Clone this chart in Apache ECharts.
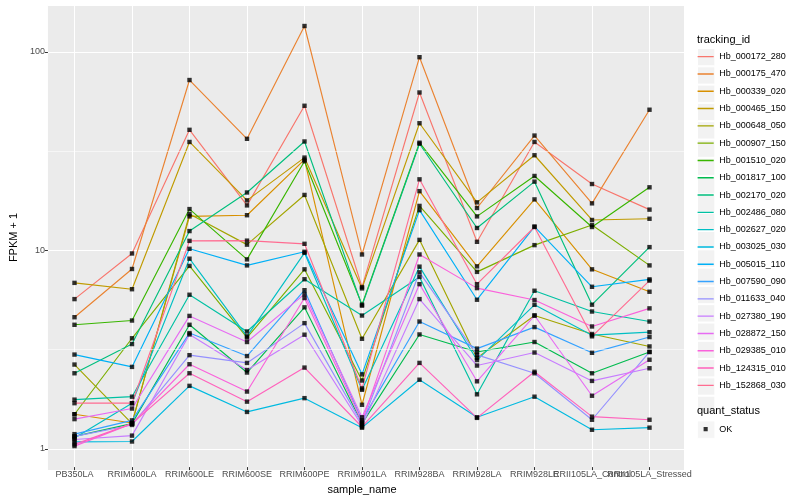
<!DOCTYPE html>
<html><head><meta charset="utf-8">
<script src="https://cdn.jsdelivr.net/npm/echarts@6.0.0/dist/echarts.min.js"></script>
<style>html,body{margin:0;padding:0;background:#fff}#c{width:800px;height:500px}</style>
</head><body><div id="c"></div>
<script>
const categories = ['PB350LA','RRIM600LA','RRIM600LE','RRIM600SE','RRIM600PE','RRIM901LA','RRIM928BA','RRIM928LA','RRIM928LE','RRII105LA_Control','RRII105LA_Stressed'];
const trackingIds = ['Hb_000172_280','Hb_000175_470','Hb_000339_020','Hb_000465_150','Hb_000648_050','Hb_000907_150','Hb_001510_020','Hb_001817_100','Hb_002170_020','Hb_002486_080','Hb_002627_020','Hb_003025_030','Hb_005015_110','Hb_007590_090','Hb_011633_040','Hb_027380_190','Hb_028872_150','Hb_029385_010','Hb_124315_010','Hb_152868_030'];
const colors = ['#F8766D','#EA8331','#D89000','#C09B00','#A3A500','#7CAE00','#39B600','#00BB4E','#00BF7D','#00C1A3','#00BFC4','#00BAE0','#00B0F6','#35A2FF','#9590FF','#C77CFF','#E76BF3','#FA62DB','#FF62BC','#FF6C91'];

// FPKM + 1 per sample, in category order
const hb000172_280 = [5.56, 9.47, 40.1, 16.6, 53.1, 6.4, 62.0, 10.85, 34.8, 21.3, 15.8];
const hb000175_470 = [4.5, 7.9, 71.7, 36.1, 134.7, 9.36, 93.6, 16.1, 37.5, 17.0, 50.7];
const hb000339_020 = [1.45, 1.31, 14.6, 14.8, 28.3, 1.62, 19.6, 8.15, 17.8, 7.87, 6.06];
const hb000465_150 = [6.72, 6.24, 34.8, 17.6, 29.0, 6.3, 43.3, 17.2, 29.8, 14.0, 14.2];
const hb000648_050 = [2.59, 1.30, 15.0, 10.5, 18.75, 3.5, 11.1, 2.8, 4.59, 3.7, 3.2];
const hb000907_150 = [1.45, 3.52, 8.19, 3.55, 7.87, 2.15, 16.5, 7.64, 10.44, 13.2, 8.24];
const hb001510_020 = [4.12, 4.33, 15.9, 8.84, 27.8, 5.21, 34.5, 14.6, 23.4, 12.9, 20.5];
const hb001817_100 = [1.12, 1.3, 4.12, 2.36, 5.05, 1.3, 3.68, 3.0, 3.37, 2.34, 3.0];
const hb002170_020 = [2.34, 3.29, 12.3, 19.3, 35.0, 5.15, 34.1, 12.75, 21.9, 5.21, 10.2];
const hb002486_080 = [1.72, 1.78, 5.85, 3.81, 7.01, 4.59, 7.2, 1.83, 6.13, 4.81, 4.28];
const hb002627_020 = [1.1, 1.65, 8.91, 3.6, 9.54, 1.93, 8.12, 2.73, 5.2, 3.65, 3.78];
const hb003025_030 = [1.05, 1.055, 2.02, 1.49, 1.75, 1.24, 2.17, 1.40, 1.78, 1.21, 1.24];
const hb005015_110 = [2.91, 2.52, 10.0, 8.24, 9.66, 2.31, 15.7, 5.52, 12.97, 6.42, 7.0];
const hb007590_090 = [1.15, 1.35, 3.74, 2.86, 6.17, 1.35, 4.28, 3.12, 4.01, 2.97, 3.57];
const hb011633_040 = [1.12, 1.28, 2.89, 2.64, 4.2, 1.3, 7.6, 2.9, 2.34, 1.36, 3.0];
const hb027380_190 = [1.08, 1.13, 3.68, 2.43, 3.67, 1.27, 5.56, 2.56, 2.98, 2.14, 2.48];
const hb028872_150 = [1.37, 1.55, 4.57, 3.37, 5.89, 1.4, 6.62, 2.13, 4.59, 1.80, 2.74];
const hb029385_010 = [1.0, 1.3, 2.60, 1.89, 5.63, 1.33, 9.36, 6.32, 5.5, 4.04, 4.99];
const hb124315_010 = [1.02, 1.3, 2.34, 1.68, 2.50, 1.25, 2.64, 1.39, 2.38, 1.41, 1.36];
const hb152868_030 = [1.65, 1.65, 10.97, 11.0, 10.6, 1.96, 22.5, 6.62, 12.9, 3.6, 6.9];

const seriesValues = [hb000172_280, hb000175_470, hb000339_020, hb000465_150, hb000648_050, hb000907_150, hb001510_020, hb001817_100, hb002170_020, hb002486_080, hb002627_020, hb003025_030, hb005015_110, hb007590_090, hb011633_040, hb027380_190, hb028872_150, hb029385_010, hb124315_010, hb152868_030];
const yMinorBreaks = [Math.pow(10, 0.5), Math.pow(10, 1.5)];
const statusName = 'OK';

const chart = echarts.init(document.getElementById('c'), null, {renderer: 'canvas'});
const all = seriesValues.flat();
const lo = Math.log10(Math.min(...all)), hi = Math.log10(Math.max(...all));
const pad = 0.05 * (hi - lo);
const yMin = Math.pow(10, lo - pad), yMax = Math.pow(10, hi + pad);

const FONT = "'Liberation Sans', Arial, Helvetica, sans-serif";
const PL = 40, PR = 684, PT = 5, PB = 470;
const unit = (PR - PL) / (categories.length - 1 + 1.2);

const lineIcon = 'path://M0,0h0.01v0.01h-0.01z M17.29,17.29h0.01v0.01h-0.01z M0.6,7.95h16.1v1.4h-16.1z';
const squareIcon = 'path://M0,0h0.01v0.01h-0.01z M17.29,17.29h0.01v0.01h-0.01z M6.6,6.6h4.1v4.1h-4.1z';

const series = [];
series.push({
  type: 'line', xAxisIndex: 0, yAxisIndex: 0, data: [[0.5, 1]], symbol: 'none', silent: true, z: 1,
  lineStyle: {width: 0, opacity: 0},
  markLine: {silent: true, symbol: ['none', 'none'], label: {show: false}, animation: false,
    lineStyle: {color: '#ffffff', width: 0.55, type: 'solid'},
    data: yMinorBreaks.map(v => ({yAxis: v}))}
});
trackingIds.forEach((id, k) => {
  series.push({
    name: id, type: 'line', xAxisIndex: 1, yAxisIndex: 1, data: seriesValues[k],
    symbol: 'none', z: 3, color: colors[k],
    lineStyle: {width: 1.15, color: colors[k]}, itemStyle: {color: colors[k]}
  });
});
const pts = [];
seriesValues.forEach(vals => vals.forEach((v, i) => pts.push([i, v])));
series.push({
  name: statusName, type: 'scatter', xAxisIndex: 1, yAxisIndex: 1, data: pts,
  symbol: 'rect', symbolSize: 4.4, z: 5, itemStyle: {color: '#000000'}
});

const legendBase = {orient: 'vertical', left: 697, itemWidth: 17.3, itemHeight: 17.3, itemGap: 0,
  selectedMode: false, padding: 0};

chart.setOption({
  animation: false,
  textStyle: {fontFamily: FONT},
  title: [
    {text: 'tracking_id', left: 697, top: 34, padding: 0, textStyle: {fontSize: 11, fontWeight: 'normal', color: '#000', fontFamily: FONT}},
    {text: 'quant_status', left: 697, top: 405, padding: 0, textStyle: {fontSize: 11, fontWeight: 'normal', color: '#000', fontFamily: FONT}}
  ],
  legend: [
    Object.assign({}, legendBase, {top: 48, z: 3, icon: 'rect', data: trackingIds,
      itemStyle: {color: '#F2F2F2', borderColor: '#ffffff', borderWidth: 1},
      textStyle: {fontSize: 9, color: 'rgba(0,0,0,0)', fontFamily: FONT}}),
    Object.assign({}, legendBase, {top: 48, z: 4, icon: lineIcon, data: trackingIds,
      itemStyle: {borderWidth: 0}, lineStyle: {width: 0},
      textStyle: {fontSize: 9, color: '#000', fontFamily: FONT}}),
    Object.assign({}, legendBase, {top: 420.5, z: 3, icon: 'rect', data: [statusName],
      itemStyle: {color: '#F2F2F2', borderColor: '#ffffff', borderWidth: 1},
      textStyle: {fontSize: 9, color: 'rgba(0,0,0,0)', fontFamily: FONT}}),
    Object.assign({}, legendBase, {top: 420.5, z: 4, icon: squareIcon, data: [statusName],
      itemStyle: {borderWidth: 0},
      textStyle: {fontSize: 9, color: '#000', fontFamily: FONT}})
  ],
  grid: [
    {left: PL, right: 800 - PR, top: PT, bottom: 500 - PB, show: true, backgroundColor: '#EBEBEB', borderWidth: 0, containLabel: false},
    {left: PL + 0.6 * unit, right: 800 - PR + 0.6 * unit, top: PT, bottom: 500 - PB, containLabel: false}
  ],
  xAxis: [
    {gridIndex: 0, type: 'value', min: 0, max: 1, show: false},
    {gridIndex: 1, type: 'category', data: categories, boundaryGap: false,
      axisLine: {show: false},
      axisTick: {show: true, length: 3, lineStyle: {color: '#333333', width: 1}},
      axisLabel: {fontSize: 9, color: '#4D4D4D', margin: 3, interval: 0, hideOverlap: false, fontFamily: FONT},
      splitLine: {show: true, lineStyle: {color: '#ffffff', width: 1.07}},
      name: 'sample_name', nameLocation: 'middle', nameGap: 16,
      nameTextStyle: {fontSize: 11, color: '#000', fontFamily: FONT}}
  ],
  yAxis: [
    {gridIndex: 0, type: 'log', logBase: 10, min: yMin, max: yMax,
      axisLine: {show: false},
      axisTick: {show: true, length: 3, lineStyle: {color: '#333333', width: 1}},
      axisLabel: {fontSize: 9, color: '#4D4D4D', margin: 3, showMinLabel: false, showMaxLabel: false, fontFamily: FONT},
      splitLine: {show: true, lineStyle: {color: '#ffffff', width: 1.07}},
      name: 'FPKM + 1', nameLocation: 'middle', nameGap: 25, nameRotate: 90,
      nameTextStyle: {fontSize: 11, color: '#000', fontFamily: FONT}},
    {gridIndex: 1, type: 'log', logBase: 10, min: yMin, max: yMax, show: false}
  ],
  series: series
});
</script>
</body></html>
